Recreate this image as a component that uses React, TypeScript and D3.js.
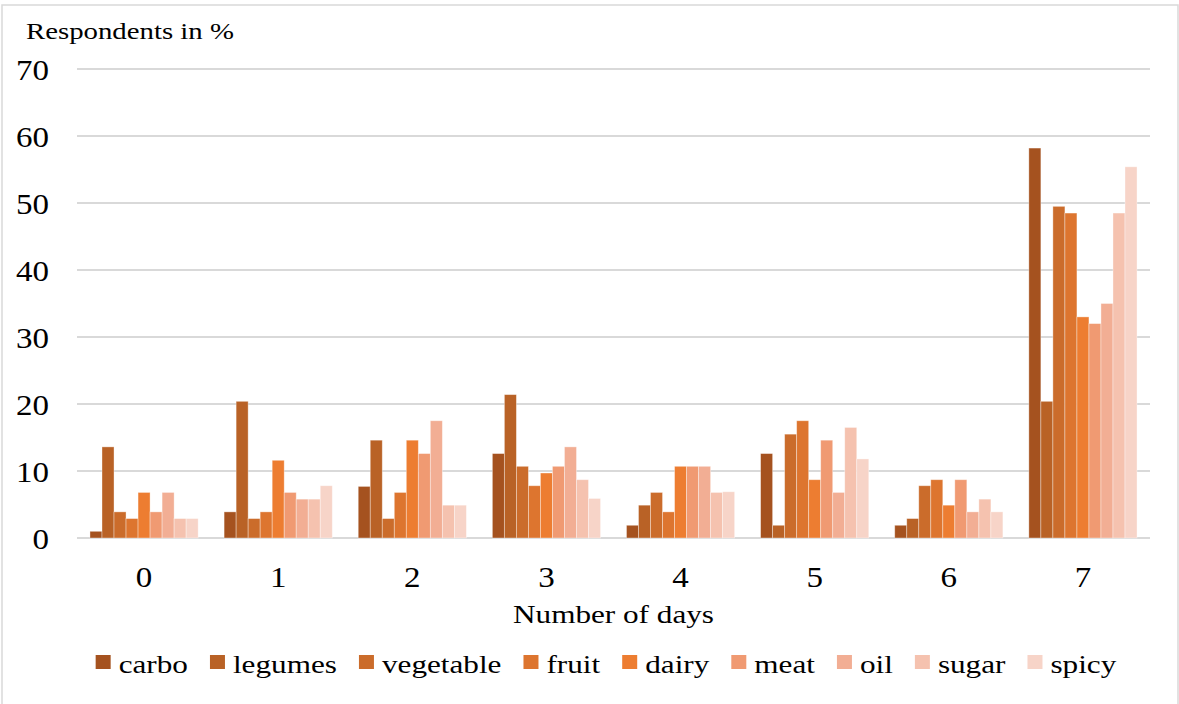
import React, { useEffect, useRef } from "react";
import * as d3 from "d3";

// Share of respondents (%) by number of days per week each food group was eaten
const days = ["0", "1", "2", "3", "4", "5", "6", "7"];
const foods = ["carbo", "legumes", "vegetable", "fruit", "dairy", "meat", "oil", "sugar", "spicy"];
const colors = ["#A5521F", "#B96226", "#CB6C2B", "#DD752F", "#ED7D31", "#F09A72", "#F2AE94", "#F5C2AF", "#F7D4C8"];

const carbo = [1.0, 3.9, 7.7, 12.6, 1.9, 12.6, 1.9, 58.2];
const legumes = [13.6, 20.4, 14.6, 21.4, 4.9, 1.9, 2.9, 20.4];
const vegetable = [3.9, 2.9, 2.9, 10.7, 6.8, 15.5, 7.8, 49.5];
const fruit = [2.9, 3.9, 6.8, 7.8, 3.9, 17.5, 8.7, 48.5];
const dairy = [6.8, 11.6, 14.6, 9.7, 10.7, 8.7, 4.9, 33.0];
const meat = [3.9, 6.8, 12.6, 10.7, 10.7, 14.6, 8.7, 32.0];
const oil = [6.8, 5.8, 17.5, 13.6, 10.7, 6.8, 3.9, 35.0];
const sugar = [2.9, 5.8, 4.9, 8.7, 6.8, 16.5, 5.8, 48.5];
const spicy = [2.9, 7.8, 4.9, 5.9, 6.9, 11.8, 3.9, 55.4];

const seriesValues = [carbo, legumes, vegetable, fruit, dairy, meat, oil, sugar, spicy];
const yTicks = [0, 10, 20, 30, 40, 50, 60, 70];

const W = 1179;
const H = 704;
const FONT = "Liberation Serif";

const M = { left: 77, right: 1150, top: 69, bottom: 538 };

function SText({ x, y, size, sx = 1.2, anchor = "start", children }: any) {
  return (
    <text
      transform={`translate(${x},${y}) scale(${sx},1)`}
      fontFamily={FONT}
      fontSize={size}
      textAnchor={anchor}
      fill="#000"
    >
      {children}
    </text>
  );
}

export default function App() {
  const legendRef = useRef<SVGGElement>(null);

  const x0 = d3.scaleBand<string>().domain(days).range([M.left, M.right]).padding(0);
  const x1 = d3
    .scaleBand<string>()
    .domain(foods)
    .range([0, x0.bandwidth()])
    .paddingInner(0)
    .paddingOuter(1.08);
  const y = d3.scaleLinear().domain([0, 70]).range([M.bottom, M.top]);

  useEffect(() => {
    const g = d3.select(legendRef.current);
    g.selectAll("*").remove();
    const fs = 26;
    const sx = 1.2;
    const sq = 15;
    const gapText = 8;
    const gapItem = 22;
    const items = g
      .selectAll("g.item")
      .data(foods)
      .enter()
      .append("g")
      .attr("class", "item");
    items
      .append("rect")
      .attr("width", sq)
      .attr("height", 14)
      .attr("y", -18)
      .attr("fill", (_d, i) => colors[i]);
    const texts = items
      .append("text")
      .attr("font-family", FONT)
      .attr("font-size", fs)
      .attr("fill", "#000")
      .text((d) => d);
    const widths: number[] = [];
    texts.each(function () {
      widths.push((this as SVGTextElement).getComputedTextLength() * sx);
    });
    texts.attr("transform", `translate(${sq + gapText},0) scale(${sx},1)`);
    const itemW = widths.map((w) => sq + gapText + w);
    const total = d3.sum(itemW) + gapItem * (foods.length - 1);
    let cx = 606 - total / 2;
    items.attr("transform", (_d, i) => {
      const t = `translate(${cx},673)`;
      cx += itemW[i] + gapItem;
      return t;
    });
  }, []);

  return (
    <svg
      width={W}
      height={H}
      style={{ position: "absolute", left: 0, top: 0, background: "#fff" }}
    >
      <rect x={2} y={5} width={1176} height={H + 4} fill="#fff" stroke="#d9d9d9" strokeWidth={1.5} />

      {/* gridlines */}
      {yTicks.map((t) => (
        <line key={t} x1={M.left} x2={M.right} y1={y(t)} y2={y(t)} stroke="#d9d9d9" strokeWidth={2} />
      ))}

      {/* y tick labels */}
      {yTicks.map((t) => (
        <SText key={t} x={49} y={y(t) + 10.5} size={30} sx={1.1} anchor="end">
          {t}
        </SText>
      ))}

      <SText x={26} y={39} size={24}>
        Respondents in %
      </SText>

      {/* bars */}
      {days.map((d, di) => (
        <g key={d} transform={`translate(${x0(d)},0)`}>
          {foods.map((f, fi) => {
            const v = seriesValues[fi][di];
            return (
              <rect
                key={f}
                x={x1(f)}
                width={x1.bandwidth()}
                y={y(v)}
                height={y(0) - y(v)}
                fill={colors[fi]}
                stroke="#ffffff"
                strokeOpacity={0.45}
                strokeWidth={0.8}
              />
            );
          })}
        </g>
      ))}

      {/* x tick labels */}
      {days.map((d) => (
        <SText key={d} x={(x0(d) as number) + x0.bandwidth() / 2} y={587} size={30} sx={1.1} anchor="middle">
          {d}
        </SText>
      ))}

      <SText x={(M.left + M.right) / 2} y={623} size={26} anchor="middle">
        Number of days
      </SText>

      <g ref={legendRef} />
    </svg>
  );
}
